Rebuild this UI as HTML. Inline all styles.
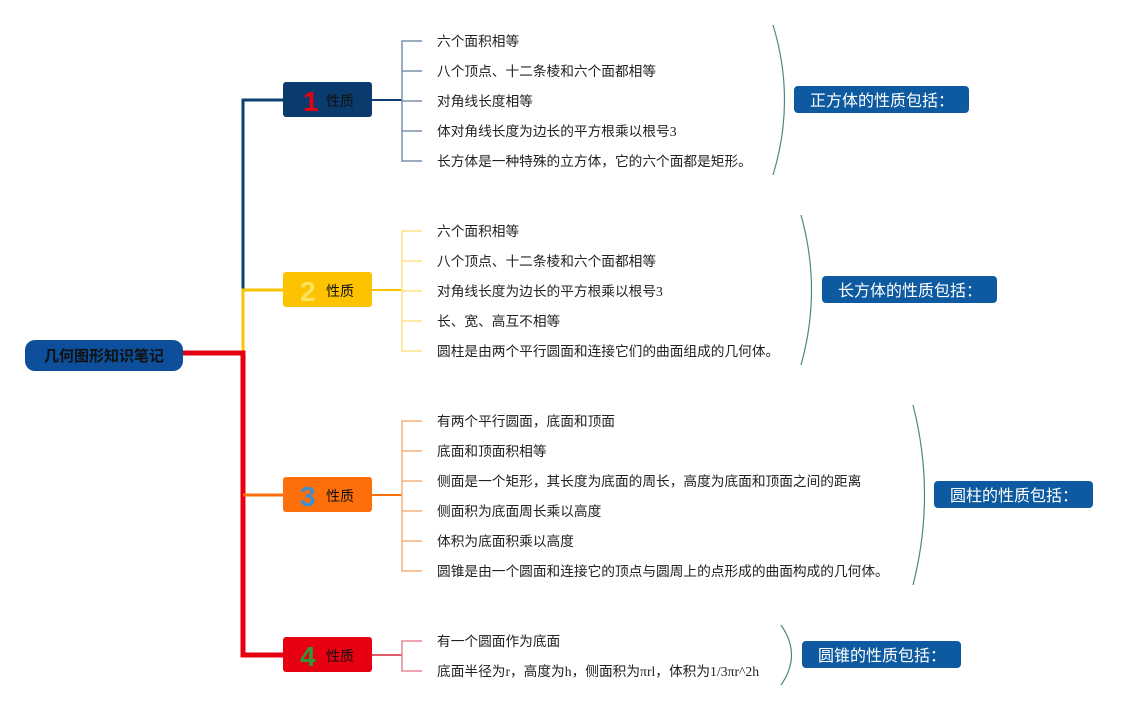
<!DOCTYPE html>
<html><head><meta charset="utf-8"><style>
body{margin:0;background:#fff;}
svg text{font-family:"Liberation Sans","Noto Sans CJK SC",sans-serif;}
svg .c text{font-family:"Liberation Serif","Noto Sans CJK SC",serif;}
</style></head><body>
<svg width="1138" height="710" viewBox="0 0 1138 710" xmlns="http://www.w3.org/2000/svg">
<polyline points="283,100 243,100 243,291" fill="none" stroke="#0d3f70" stroke-width="3"/>
<polyline points="283,290 243,290 243,353" fill="none" stroke="#fdc300" stroke-width="3"/>
<polyline points="183,353 243,353 243,655 283,655" fill="none" stroke="#e60012" stroke-width="5"/>
<line x1="243" y1="495" x2="283" y2="495" stroke="#fd6f0a" stroke-width="3"/>
<rect x="25" y="340" width="158" height="31" rx="10" fill="#0d4f9b"/>
<text x="104" y="361" font-size="15" font-weight="bold" text-anchor="middle" fill="#111">几何图形知识笔记</text>
<rect x="283" y="82" width="89" height="35" rx="3" fill="#0b3a6d"/>
<text x="303" y="111" font-size="28" font-weight="bold" fill="#e60012">1</text>
<text x="326" y="106" font-size="14" fill="#111">性质</text>
<rect x="283" y="272" width="89" height="35" rx="3" fill="#fdc300"/>
<text x="300" y="301" font-size="28" font-weight="bold" fill="#fde160">2</text>
<text x="326" y="296" font-size="14" fill="#111">性质</text>
<rect x="283" y="477" width="89" height="35" rx="3" fill="#fd6f0a"/>
<text x="300" y="506" font-size="28" font-weight="bold" fill="#3a8fd0">3</text>
<text x="326" y="501" font-size="14" fill="#111">性质</text>
<rect x="283" y="637" width="89" height="35" rx="3" fill="#e60012"/>
<text x="300" y="666" font-size="28" font-weight="bold" fill="#2a9a3a">4</text>
<text x="326" y="661" font-size="14" fill="#111">性质</text>
<line x1="372" y1="100" x2="402" y2="100" stroke="#0d3f70" stroke-width="2"/>
<g stroke="#7890a8" stroke-width="1.5" fill="none">
<polyline points="422,41 402,41 402,161 422,161"/><line x1="402" y1="71" x2="422" y2="71"/><line x1="402" y1="101" x2="422" y2="101"/><line x1="402" y1="131" x2="422" y2="131"/></g>
<line x1="372" y1="290" x2="402" y2="290" stroke="#fdc300" stroke-width="2"/>
<g stroke="#fde08a" stroke-width="1.5" fill="none">
<polyline points="422,231 402,231 402,351 422,351"/><line x1="402" y1="261" x2="422" y2="261"/><line x1="402" y1="291" x2="422" y2="291"/><line x1="402" y1="321" x2="422" y2="321"/></g>
<line x1="372" y1="495" x2="402" y2="495" stroke="#fd6f0a" stroke-width="2"/>
<g stroke="#f6b07a" stroke-width="1.5" fill="none">
<polyline points="422,421 402,421 402,571 422,571"/><line x1="402" y1="451" x2="422" y2="451"/><line x1="402" y1="481" x2="422" y2="481"/><line x1="402" y1="511" x2="422" y2="511"/><line x1="402" y1="541" x2="422" y2="541"/></g>
<line x1="372" y1="655" x2="402" y2="655" stroke="#e05a6a" stroke-width="2"/>
<g stroke="#e58a96" stroke-width="1.5" fill="none">
<polyline points="422,641 402,641 402,671 422,671"/></g>
<g class="c" font-size="13.7" fill="#222">
<text x="437" y="46">六个面积相等</text>
<text x="437" y="76">八个顶点、十二条棱和六个面都相等</text>
<text x="437" y="106">对角线长度相等</text>
<text x="437" y="136">体对角线长度为边长的平方根乘以根号3</text>
<text x="437" y="166">长方体是一种特殊的立方体，它的六个面都是矩形。</text>
<text x="437" y="236">六个面积相等</text>
<text x="437" y="266">八个顶点、十二条棱和六个面都相等</text>
<text x="437" y="296">对角线长度为边长的平方根乘以根号3</text>
<text x="437" y="326">长、宽、高互不相等</text>
<text x="437" y="356">圆柱是由两个平行圆面和连接它们的曲面组成的几何体。</text>
<text x="437" y="426">有两个平行圆面，底面和顶面</text>
<text x="437" y="456">底面和顶面积相等</text>
<text x="437" y="486">侧面是一个矩形，其长度为底面的周长，高度为底面和顶面之间的距离</text>
<text x="437" y="516">侧面积为底面周长乘以高度</text>
<text x="437" y="546">体积为底面积乘以高度</text>
<text x="437" y="576">圆锥是由一个圆面和连接它的顶点与圆周上的点形成的曲面构成的几何体。</text>
<text x="437" y="646">有一个圆面作为底面</text>
<text x="437" y="676">底面半径为r，高度为h，侧面积为πrl，体积为1/3πr^2h</text>
</g>
<g stroke="#4a8a7a" stroke-width="1.2" fill="none">
<path d="M773,25 Q796,100 773,175"/>
<path d="M801,215 Q822,290 801,365"/>
<path d="M913,405 Q936,495 913,585"/>
<path d="M781,625 Q802,655 781,685"/>
</g>
<g font-size="16" fill="#fff">
<rect x="794" y="86" width="175" height="27" rx="4" fill="#0d5aa0"/>
<text x="810" y="106">正方体的性质包括：</text>
<rect x="822" y="276" width="175" height="27" rx="4" fill="#0d5aa0"/>
<text x="838" y="296">长方体的性质包括：</text>
<rect x="934" y="481" width="159" height="27" rx="4" fill="#0d5aa0"/>
<text x="950" y="501">圆柱的性质包括：</text>
<rect x="802" y="641" width="159" height="27" rx="4" fill="#0d5aa0"/>
<text x="818" y="661">圆锥的性质包括：</text>
</g>
</svg>
</body></html>
